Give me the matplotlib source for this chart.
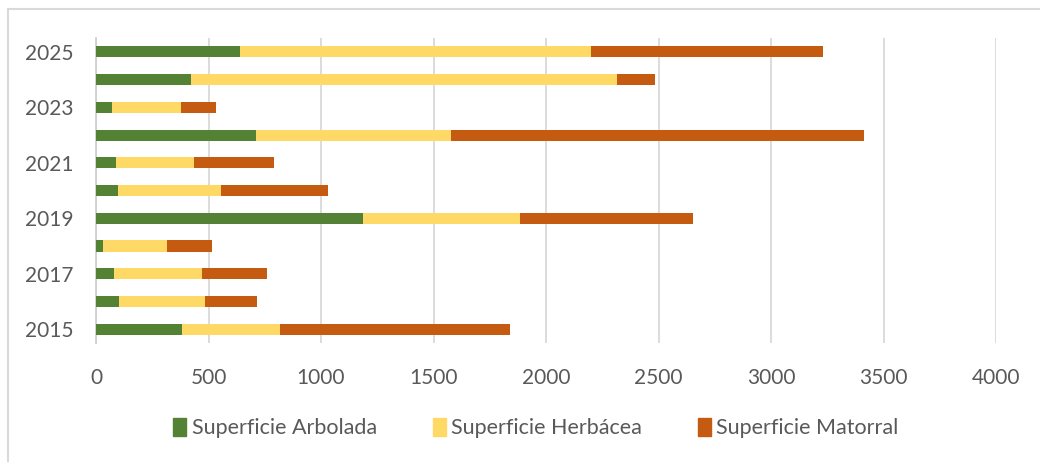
import matplotlib
matplotlib.use('Agg')
import matplotlib.pyplot as plt
from matplotlib.patches import Rectangle, Patch
import numpy as np

years = [2015, 2016, 2017, 2018, 2019, 2020, 2021, 2022, 2023, 2024, 2025]
arbolada = [382, 102, 80, 33, 1187, 96, 89, 710, 71, 423, 640]
herbacea = [435, 382, 391, 282, 699, 459, 348, 866, 306, 1892, 1560]
matorral = [1024, 232, 291, 200, 766, 477, 353, 1837, 157, 170, 1033]
labels = ['Superficie Arbolada', 'Superficie Herbácea', 'Superficie Matorral']
colors = ['#548235', '#FFD966', '#C55A11']

plt.rcParams['font.family'] = ['Lato', 'DejaVu Sans']
txt = '#595959'

fig = plt.figure(figsize=(10.4, 4.62), dpi=100)
W, H = 1040, 462
ax = fig.add_axes([96 / W, (H - 343) / H, 900 / W, 305 / H])

y = np.arange(len(years))
a = np.array(arbolada)
h = np.array(herbacea)
m = np.array(matorral)
ax.barh(y, a, height=0.4, color=colors[0], zorder=3)
ax.barh(y, h, left=a, height=0.4, color=colors[1], zorder=3)
ax.barh(y, m, left=a + h, height=0.4, color=colors[2], zorder=3)

ax.set_xlim(0, 4000)
ax.set_ylim(-0.5, len(years) - 0.5)
ax.set_xticks(np.arange(0, 4001, 500))
ax.set_yticks(y[::2])
ax.set_yticklabels([str(v) for v in years[::2]])
ax.tick_params(axis='both', length=0, labelsize=15, colors=txt)
ax.tick_params(axis='x', pad=18)
ax.tick_params(axis='y', pad=16)

ax.grid(axis='x', color='#d9d9d9', linewidth=1.3, zorder=0)
for s in ['top', 'right', 'bottom']:
    ax.spines[s].set_visible(False)
ax.spines['left'].set_color('#d0d0d0')
ax.spines['left'].set_linewidth(1.3)

handles = [Patch(color=c) for c in colors]
fig.legend(handles, labels, loc='center', bbox_to_anchor=(536 / W, (H - 428) / H),
           ncol=3, frameon=False, fontsize=15.5, labelcolor=txt,
           handlelength=0.6, handleheight=0.9, handletextpad=0.25, columnspacing=2.6)

# chart border (cropped on right and bottom)
fig.patches.append(Rectangle((8 / W, -0.1), 1.2, 1.1 - 9 / H, transform=fig.transFigure,
                             fill=False, edgecolor='#d9d9d9', linewidth=1.5))

fig.savefig('out.png', dpi=100)
